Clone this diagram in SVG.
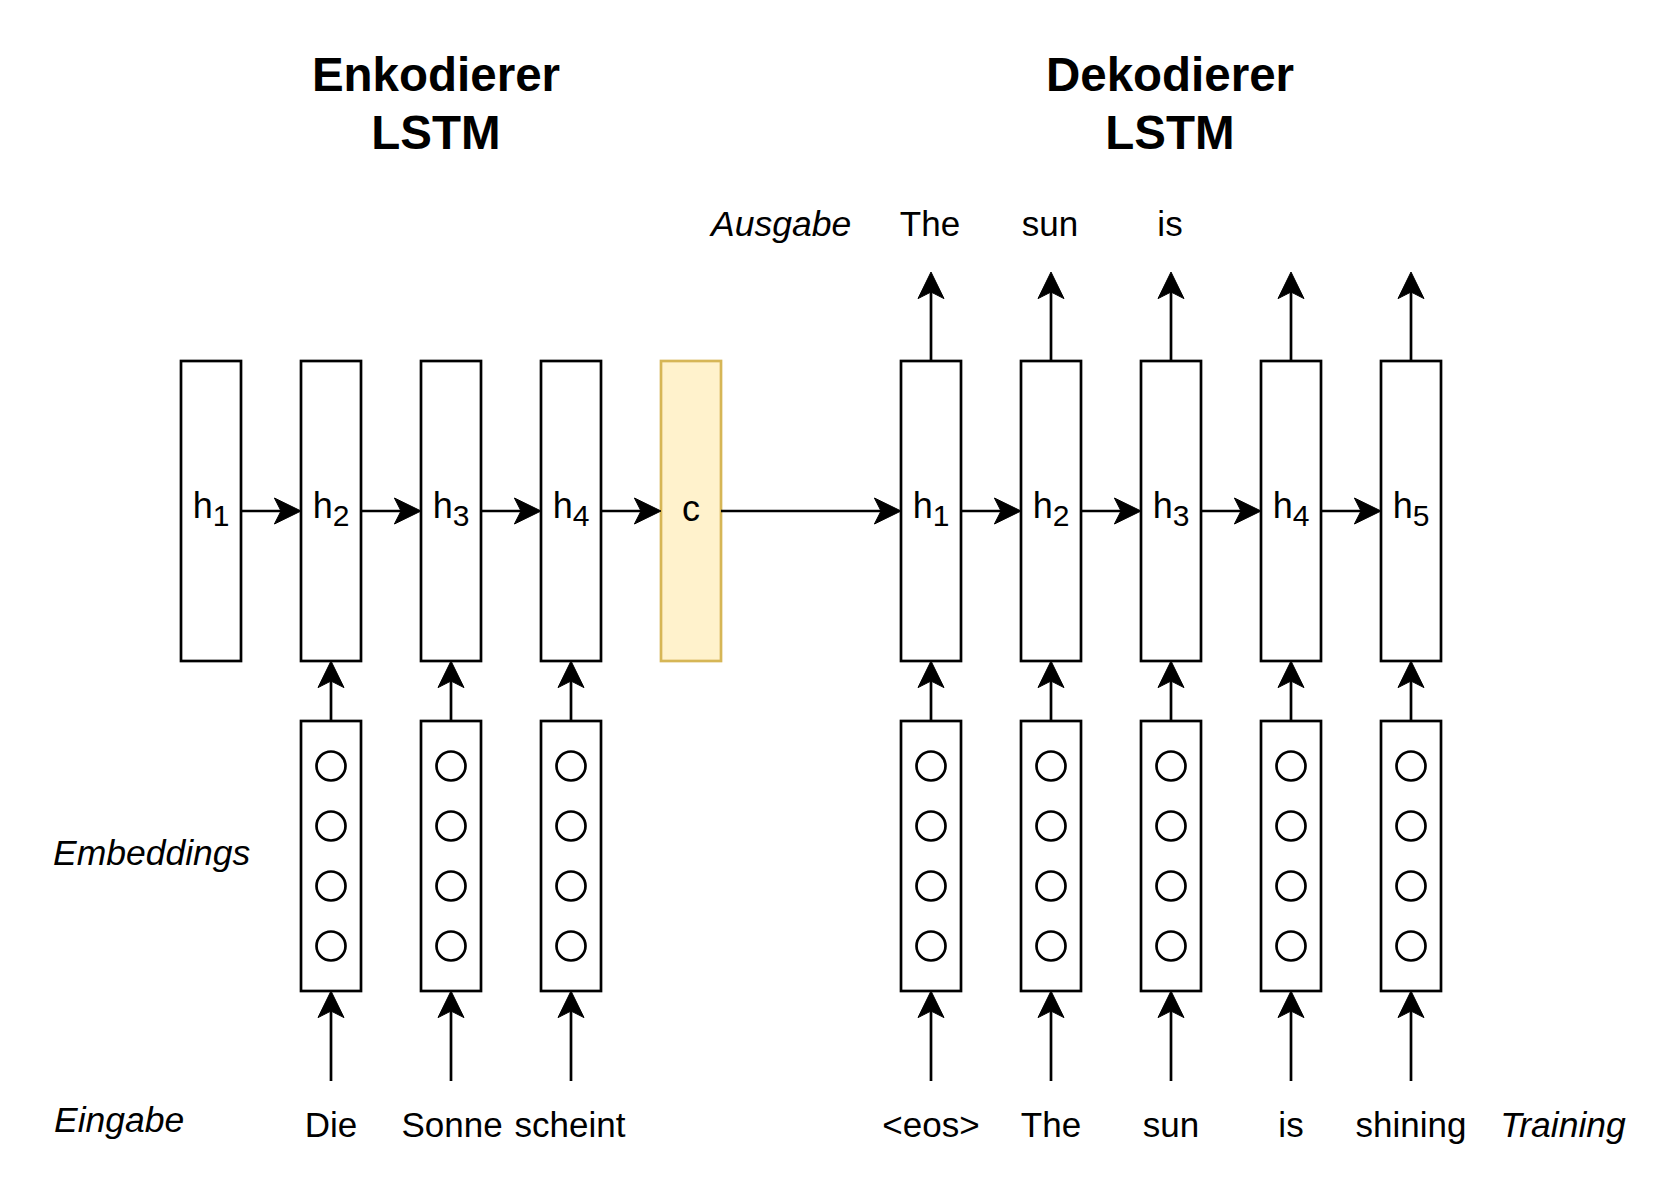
<svg xmlns="http://www.w3.org/2000/svg" width="1662" height="1203" viewBox="0 0 1662 1203">
<style>
  .box { fill: #ffffff; stroke: #000000; stroke-width: 2.7; }
  .ctx { fill: #fff2cc; stroke: #d6b656; stroke-width: 2.7; }
  .dot { fill: none; stroke: #000000; stroke-width: 2.7; }
  .edge { fill: none; stroke: #000000; stroke-width: 2.7; marker-end: url(#arrow); }
  text { font-family: "Liberation Sans", Arial, Helvetica, sans-serif; fill: #000000; }
  .title { font-size: 47.5px; font-weight: bold; text-anchor: middle; }
  .lbl { font-size: 35px; text-anchor: middle; }
  .hl { font-size: 36px; text-anchor: middle; }
  .it { font-size: 35.5px; font-style: italic; }
  .sub { font-size: 30px; }
</style>
<defs>
  <marker id="arrow" viewBox="-7 -14 28 28" refX="0" refY="0" markerWidth="28" markerHeight="28" markerUnits="userSpaceOnUse" orient="auto" overflow="visible">
    <path d="M -6.6,-13 L 20,0 L -6.6,13 L 0,0 Z" fill="#000000" stroke="#000000" stroke-width="1" stroke-linejoin="miter"/>
  </marker>
  <g id="emb">
    <rect class="box" x="-30" y="0" width="60" height="270"/>
    <circle class="dot" cx="0" cy="45" r="14.5"/>
    <circle class="dot" cx="0" cy="105" r="14.5"/>
    <circle class="dot" cx="0" cy="165" r="14.5"/>
    <circle class="dot" cx="0" cy="225" r="14.5"/>
  </g>
</defs>

<rect x="0" y="0" width="1662" height="1203" fill="#ffffff"/>

<!-- titles -->
<g id="title-enc">
  <text class="title" x="436" y="91">Enkodierer</text>
  <text class="title" x="436" y="148.5">LSTM</text>
</g>
<g id="title-dec">
  <text class="title" x="1170" y="91">Dekodierer</text>
  <text class="title" x="1170" y="148.5">LSTM</text>
</g>

<!-- side labels -->
<g id="label-ausgabe"><text class="it" x="711" y="236">Ausgabe</text></g>
<g id="label-embeddings"><text class="it" x="53" y="865">Embeddings</text></g>
<g id="label-eingabe"><text class="it" x="54" y="1132">Eingabe</text></g>
<g id="label-training"><text class="it" x="1563" y="1137" text-anchor="middle">Training</text></g>

<!-- encoder hidden states -->
<g id="enc-h1"><rect class="box" x="181" y="361" width="60" height="300"/><text class="hl" x="211" y="518">h<tspan class="sub" dy="8">1</tspan></text></g>
<g id="enc-h2"><rect class="box" x="301" y="361" width="60" height="300"/><text class="hl" x="331" y="518">h<tspan class="sub" dy="8">2</tspan></text></g>
<g id="enc-h3"><rect class="box" x="421" y="361" width="60" height="300"/><text class="hl" x="451" y="518">h<tspan class="sub" dy="8">3</tspan></text></g>
<g id="enc-h4"><rect class="box" x="541" y="361" width="60" height="300"/><text class="hl" x="571" y="518">h<tspan class="sub" dy="8">4</tspan></text></g>
<g id="context-c"><rect class="ctx" x="661" y="361" width="60" height="300"/><text class="hl" x="691" y="521">c</text></g>

<!-- decoder hidden states -->
<g id="dec-h1"><rect class="box" x="901" y="361" width="60" height="300"/><text class="hl" x="931" y="518">h<tspan class="sub" dy="8">1</tspan></text></g>
<g id="dec-h2"><rect class="box" x="1021" y="361" width="60" height="300"/><text class="hl" x="1051" y="518">h<tspan class="sub" dy="8">2</tspan></text></g>
<g id="dec-h3"><rect class="box" x="1141" y="361" width="60" height="300"/><text class="hl" x="1171" y="518">h<tspan class="sub" dy="8">3</tspan></text></g>
<g id="dec-h4"><rect class="box" x="1261" y="361" width="60" height="300"/><text class="hl" x="1291" y="518">h<tspan class="sub" dy="8">4</tspan></text></g>
<g id="dec-h5"><rect class="box" x="1381" y="361" width="60" height="300"/><text class="hl" x="1411" y="518">h<tspan class="sub" dy="8">5</tspan></text></g>

<!-- embeddings -->
<g id="enc-emb1"><use href="#emb" x="331" y="721"/></g>
<g id="enc-emb2"><use href="#emb" x="451" y="721"/></g>
<g id="enc-emb3"><use href="#emb" x="571" y="721"/></g>
<g id="dec-emb1"><use href="#emb" x="931" y="721"/></g>
<g id="dec-emb2"><use href="#emb" x="1051" y="721"/></g>
<g id="dec-emb3"><use href="#emb" x="1171" y="721"/></g>
<g id="dec-emb4"><use href="#emb" x="1291" y="721"/></g>
<g id="dec-emb5"><use href="#emb" x="1411" y="721"/></g>

<!-- output words -->
<g id="out-the"><text class="lbl" x="930" y="236">The</text></g>
<g id="out-sun"><text class="lbl" x="1050" y="236">sun</text></g>
<g id="out-is"><text class="lbl" x="1170" y="236">is</text></g>

<!-- input words -->
<g id="in-die"><text class="lbl" x="331" y="1137">Die</text></g>
<g id="in-sonne"><text class="lbl" x="452" y="1137">Sonne</text></g>
<g id="in-scheint"><text class="lbl" x="570" y="1137">scheint</text></g>
<g id="in-eos"><text class="lbl" x="931" y="1137">&lt;eos&gt;</text></g>
<g id="in-the"><text class="lbl" x="1051" y="1137">The</text></g>
<g id="in-sun"><text class="lbl" x="1171" y="1137">sun</text></g>
<g id="in-is"><text class="lbl" x="1291" y="1137">is</text></g>
<g id="in-shining"><text class="lbl" x="1411" y="1137">shining</text></g>

<!-- connectors -->
<g id="connectors">
  <!-- horizontal encoder chain -->
  <line class="edge" x1="241" y1="511" x2="281" y2="511"/>
  <line class="edge" x1="361" y1="511" x2="401" y2="511"/>
  <line class="edge" x1="481" y1="511" x2="521" y2="511"/>
  <line class="edge" x1="601" y1="511" x2="641" y2="511"/>
  <line class="edge" x1="721" y1="511" x2="881" y2="511"/>
  <!-- horizontal decoder chain -->
  <line class="edge" x1="961" y1="511" x2="1001" y2="511"/>
  <line class="edge" x1="1081" y1="511" x2="1121" y2="511"/>
  <line class="edge" x1="1201" y1="511" x2="1241" y2="511"/>
  <line class="edge" x1="1321" y1="511" x2="1361" y2="511"/>
  <!-- embedding to hidden -->
  <line class="edge" x1="331" y1="721" x2="331" y2="681"/>
  <line class="edge" x1="451" y1="721" x2="451" y2="681"/>
  <line class="edge" x1="571" y1="721" x2="571" y2="681"/>
  <line class="edge" x1="931" y1="721" x2="931" y2="681"/>
  <line class="edge" x1="1051" y1="721" x2="1051" y2="681"/>
  <line class="edge" x1="1171" y1="721" x2="1171" y2="681"/>
  <line class="edge" x1="1291" y1="721" x2="1291" y2="681"/>
  <line class="edge" x1="1411" y1="721" x2="1411" y2="681"/>
  <!-- input to embedding -->
  <line class="edge" x1="331" y1="1081" x2="331" y2="1011"/>
  <line class="edge" x1="451" y1="1081" x2="451" y2="1011"/>
  <line class="edge" x1="571" y1="1081" x2="571" y2="1011"/>
  <line class="edge" x1="931" y1="1081" x2="931" y2="1011"/>
  <line class="edge" x1="1051" y1="1081" x2="1051" y2="1011"/>
  <line class="edge" x1="1171" y1="1081" x2="1171" y2="1011"/>
  <line class="edge" x1="1291" y1="1081" x2="1291" y2="1011"/>
  <line class="edge" x1="1411" y1="1081" x2="1411" y2="1011"/>
  <!-- decoder outputs -->
  <line class="edge" x1="931" y1="361" x2="931" y2="292"/>
  <line class="edge" x1="1051" y1="361" x2="1051" y2="292"/>
  <line class="edge" x1="1171" y1="361" x2="1171" y2="292"/>
  <line class="edge" x1="1291" y1="361" x2="1291" y2="292"/>
  <line class="edge" x1="1411" y1="361" x2="1411" y2="292"/>
</g>
</svg>
